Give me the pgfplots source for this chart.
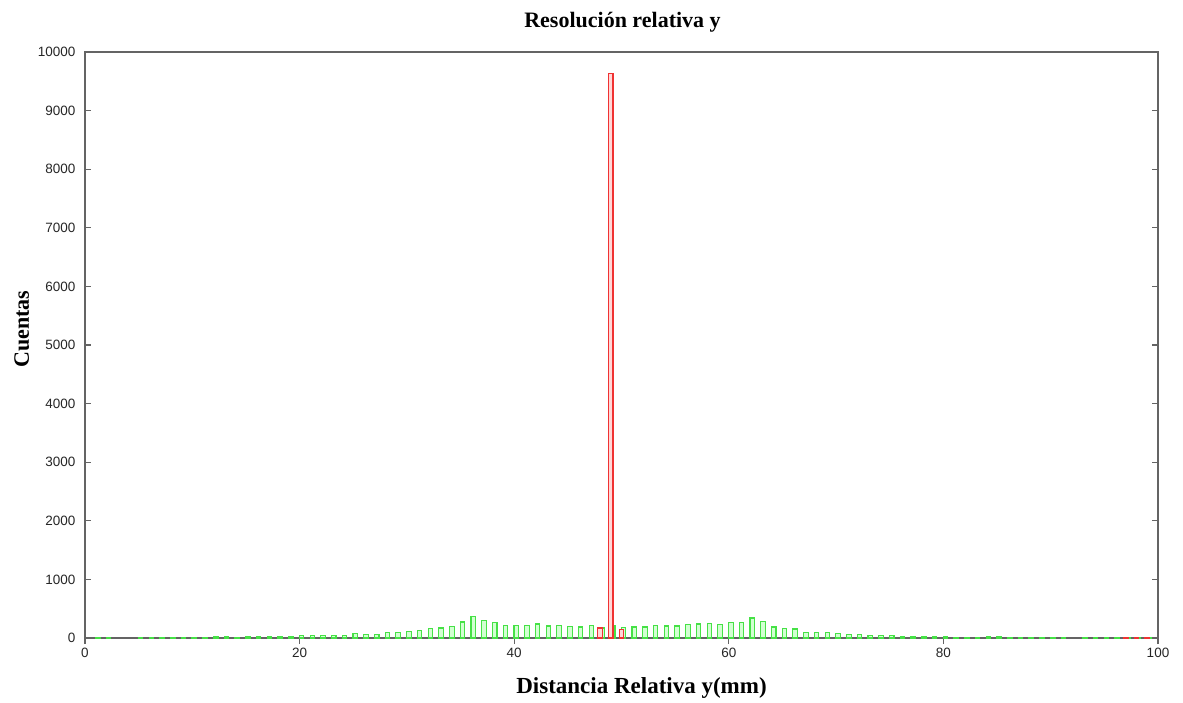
\documentclass[border=0pt]{standalone}
\usepackage{pgfplots}
\pgfplotsset{compat=1.18}
\usepackage{fontspec}
\setmainfont{Liberation Serif}
\newfontfamily\ticksfont{Liberation Sans}
\definecolor{axgray}{RGB}{100,100,100}
\definecolor{gline}{RGB}{70,225,70}
\definecolor{gfill}{RGB}{210,255,210}
\definecolor{rline}{RGB}{240,50,50}
\definecolor{rfill}{RGB}{255,215,215}
\begin{document}
\begin{tikzpicture}
\path[use as bounding box] (-85pt,-64pt) rectangle (1098pt,638pt);
\begin{axis}[
  at={(0pt,0pt)}, anchor=south west,
  scale only axis, width=1073pt, height=586pt,
  xmin=0, xmax=100, ymin=0, ymax=10000,
  xtick={0,20,40,60,80,100},
  ytick={0,1000,2000,3000,4000,5000,6000,7000,8000,9000,10000},
  xtick pos=lower,
  scaled y ticks=false,
  /pgf/number format/assume math mode=true,
  /pgf/number format/set thousands separator={},
  ticklabel style={font=\ticksfont\fontsize{13.5}{16}\selectfont, text=black!85},
  yticklabel style={xshift=-6pt},
  xticklabel style={yshift=-1pt},
  tick style={axgray, line width=1.2pt},
  major tick length=6pt,
  axis line style={axgray, line width=1.4pt},
  title={\textbf{Resolución relativa y}},
  title style={font=\fontsize{22}{26}\selectfont, at={(axis description cs:0.5,1)}, anchor=center, yshift=24pt, xshift=1pt},
  xlabel={\textbf{Distancia Relativa y(mm)}},
  xlabel style={font=\fontsize{23}{27}\selectfont, at={(axis description cs:0.5,0)}, anchor=center, yshift=-50pt, xshift=20pt},
  ylabel={\textbf{Cuentas}},
  ylabel style={font=\fontsize{22}{26}\selectfont, at={(axis description cs:-0.059,0.527)}, anchor=center},
  ybar, bar width=4.5pt,
]
\addplot[draw=gline, fill=gfill, line width=1.1pt, bar shift=2pt] coordinates {
(1,10) (2,10) (5,10) (6,10) (7,10) (8,10) (9,10) (10,15) (11,15) (12,20)
(13,20) (14,15) (15,20) (16,25) (17,25) (18,20) (19,20) (20,50) (21,40) (22,40)
(23,40) (24,50) (25,74) (26,63) (27,63) (28,97) (29,97) (30,108) (31,130) (32,165)
(33,171) (34,200) (35,273) (36,364) (37,295) (38,262) (39,217) (40,217) (41,217) (42,239)
(43,205) (44,217) (45,193) (46,188) (47,217) (48,171) (49,205) (50,180) (51,188) (52,188)
(53,217) (54,205) (55,205) (56,228) (57,239) (58,250) (59,228) (60,262) (61,262) (62,341)
(63,285) (64,188) (65,165) (66,154) (67,100) (68,95) (69,95) (70,80) (71,55) (72,60)
(73,45) (74,45) (75,45) (76,30) (77,25) (78,25) (79,25) (80,20) (81,15) (82,15)
(83,15) (84,20) (85,30) (86,15) (87,15) (88,15) (89,15) (90,15) (91,15) (93,15)
(94,15) (95,15) (96,15) (97,15) (98,15) (99,15)
};
\addplot[draw=rline, fill=rfill, line width=1.1pt, bar shift=0pt] coordinates {
(48,170) (49,9630) (50,150) (97,10) (98,10) (99,10)
};
\end{axis}
\end{tikzpicture}
\end{document}
